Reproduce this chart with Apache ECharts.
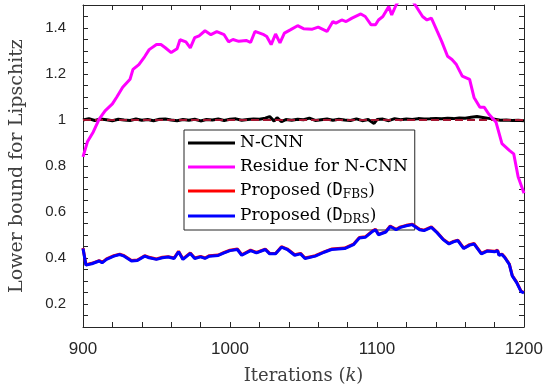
<!DOCTYPE html>
<html>
<head>
<meta charset="utf-8">
<script src="https://cdn.jsdelivr.net/npm/echarts@6/dist/echarts.min.js"></script>
<style>
    html, body { margin: 0; padding: 0; background: #fff; }
    #main { width: 548px; height: 390px; }
</style>
</head>
<body>
<div id="main"></div>
<script>
// tick labels
var xTickLabels = [900, 1000, 1100, 1200]
var yTickLabels = [0.2, 0.4, 0.6, 0.8, 1, 1.2, 1.4]

// N-CNN (black)
var nIter = [900,904,908,912,916,920,924,928,932,936,940,944,948,952,956,960,964,968,972,976,980,984,988,992,996,1000,1004,1008,1012,1016,1020,1024,
    1027,1030,1032,1035,1038,
    1042,1046,1050,1054,1058,1062,1066,1070,1074,1078,1082,1086,1090,1094,
    1098,1100,
    1104,1108,1112,1116,1120,1124,1128,1132,1136,1140,1144,1148,1152,1156,1160,1164,1168,1172,1176,1180,1184,1188,1192,1196,1200]
var nVals = [1.000,1.006,0.998,1.004,1.001,0.997,1.003,1.000,0.998,1.004,0.999,1.002,0.997,1.003,1.004,1.000,0.997,1.002,0.999,1.003,0.996,1.002,1.000,1.004,0.998,1.003,1.005,0.999,1.002,1.004,1.003,1.008,
    1.015,0.995,1.010,0.993,1.002,
    0.999,1.003,1.001,1.008,0.998,1.001,1.004,0.999,1.003,1.000,0.998,1.005,0.997,1.002,
    0.985,1.002,
    1.004,0.997,1.006,1.001,1.004,1.002,1.006,1.004,1.005,1.007,1.005,1.008,1.006,1.009,1.008,1.012,1.015,1.011,1.007,1.003,0.999,1.000,0.998,0.999,0.997]

// Residue for N-CNN (magenta)
var resIter = [900,903,907,911,915,920,923,927,932,934,938,942,945,950,953,956,960,964,966,970,973,976,979,983,987,991,996,999,1002,1006,
    1011,1014,1017,1023,1025,1028,1031,1034,1037,1041,1046,1050,1056,1060,1066,1070,1072,1076,1079,1083,1089,1092,1096,1099,1101,1104,1108,1110,1113,1117,
    1121,1126,1131,1134,1137,1141,1144,1148,1151,1154,1158,1163,1166,1170,1173,1176,1181,1185,1190,1193,1196,1200]
var resVals = [0.840,0.905,0.948,1.004,1.040,1.070,1.100,1.142,1.177,1.220,1.241,1.276,1.306,1.328,1.328,1.314,1.293,1.310,1.349,1.340,1.314,1.358,1.366,1.388,1.371,1.384,1.371,1.340,1.350,1.342,
    1.346,1.337,1.385,1.371,1.363,1.328,1.374,1.335,1.378,1.392,1.410,1.397,1.395,1.404,1.385,1.428,1.421,1.435,1.428,1.443,1.461,1.450,1.414,1.414,1.435,1.450,1.493,1.457,1.500,1.540,
    1.550,1.500,1.450,1.435,1.443,1.385,1.342,1.277,1.263,1.241,1.191,1.177,1.098,1.055,1.055,1.026,0.990,0.897,0.868,0.853,0.753,0.681]

// Proposed (D_FBS) red, Proposed (D_DRS) blue -- nearly the same curve
var propIter = [900,902,906,911,913,916,921,925,928,933,937,942,945,950,954,958,962,965,968,973,976,980,983,986,992,996,1000,1005,1008,1014,
    1018,1024,1027,1031,1035,1039,1044,1048,1051,1058,1064,1069,1078,1084,1088,1092,1097,1099,1101,1106,1109,1113,1116,1120,1124,1129,1132,1137,1141,1145,
    1149,1152,1155,1159,1163,1166,1171,1175,1180,1182,1183,1185,1187,1190,1192,1195,1198,1200]
var fbsVals = [0.443,0.371,0.377,0.389,0.381,0.396,0.410,0.417,0.410,0.389,0.391,0.410,0.403,0.396,0.403,0.406,0.400,0.429,0.396,0.422,0.400,0.407,0.400,0.410,0.413,0.424,0.434,0.439,0.414,0.434,
    0.424,0.439,0.420,0.420,0.449,0.439,0.414,0.420,0.400,0.410,0.427,0.439,0.443,0.460,0.489,0.492,0.518,0.525,0.503,0.515,0.539,0.525,0.535,0.542,0.547,0.525,0.521,0.535,0.511,0.482,
    0.463,0.472,0.478,0.443,0.458,0.463,0.420,0.432,0.429,0.434,0.414,0.417,0.403,0.374,0.324,0.295,0.256,0.250]
var drsVals = [0.441,0.369,0.375,0.387,0.379,0.394,0.408,0.415,0.408,0.387,0.389,0.408,0.401,0.394,0.401,0.404,0.398,0.427,0.394,0.420,0.398,0.405,0.398,0.408,0.411,0.422,0.432,0.437,0.412,0.432,
    0.422,0.437,0.418,0.418,0.447,0.437,0.412,0.418,0.398,0.408,0.425,0.437,0.441,0.458,0.487,0.490,0.516,0.523,0.501,0.513,0.537,0.523,0.533,0.540,0.545,0.523,0.519,0.533,0.509,0.480,
    0.461,0.470,0.476,0.441,0.456,0.461,0.418,0.430,0.427,0.432,0.412,0.415,0.401,0.372,0.322,0.293,0.254,0.248]

// dashed reference level
var refIter = [900, 1200]
var refVals = [1, 1]

function pairs(xs, ys) {
    var out = []
    for (var i = 0; i < xs.length; i++) {
        out.push([xs[i], ys[i]])
    }
    return out
}

var axisColor = '#262626'
var serif = 'DejaVu Serif'

var legendText = {
    'N-CNN': 'N-CNN',
    'Residue for N-CNN': 'Residue for N-CNN',
    'Proposed (D_FBS)': 'Proposed ({m|D}{s|FBS})',
    'Proposed (D_DRS)': 'Proposed ({m|D}{s|DRS})'
}

var myChart = echarts.init(document.getElementById('main'))

var option = {
    animation: false,
    backgroundColor: '#fff',
    grid: { left: 72, right: 24, top: 5, bottom: 60, show: false },
    legend: {
        data: ['N-CNN', 'Residue for N-CNN', 'Proposed (D_FBS)', 'Proposed (D_DRS)'],
        orient: 'vertical',
        left: 184,
        top: 130,
        padding: [4, 7, 4, 4],
        itemGap: 6,
        itemWidth: 47,
        itemHeight: 3,
        icon: 'rect',
        backgroundColor: '#fff',
        borderColor: axisColor,
        borderWidth: 1,
        borderRadius: 0,
        selectedMode: false,
        formatter: function (name) {
            return legendText[name]
        },
        textStyle: {
            fontFamily: serif,
            fontSize: 17,
            lineHeight: 18,
            color: '#000',
            rich: {
                m: { fontFamily: 'DejaVu Sans Mono', fontSize: 17, color: '#000' },
                s: { fontFamily: serif, fontSize: 12, color: '#000', padding: [8, 0, 0, 0] }
            }
        }
    },
    xAxis: [
        {
            type: 'value',
            min: 900,
            max: 1200,
            interval: 20,
            name: 'Iterations ({i|k})',
            nameLocation: 'middle',
            nameGap: 40,
            nameTextStyle: {
                fontFamily: serif,
                fontSize: 18,
                color: '#404040',
                rich: {
                    i: { fontFamily: serif, fontStyle: 'italic', fontSize: 18, color: '#404040' }
                }
            },
            axisLine: { show: true, lineStyle: { color: axisColor, width: 1 } },
            axisTick: { show: true, inside: true, length: 5, lineStyle: { color: axisColor } },
            axisLabel: {
                interval: 0,
                margin: 14,
                fontFamily: 'Liberation Sans',
                fontSize: 17,
                color: axisColor,
                formatter: function (v) {
                    return xTickLabels.indexOf(Math.round(v)) >= 0 ? String(Math.round(v)) : ''
                }
            },
            splitLine: { show: false }
        },
        {
            type: 'value',
            position: 'top',
            min: 900,
            max: 1200,
            interval: 20,
            axisLine: { show: true, lineStyle: { color: axisColor, width: 1 } },
            axisTick: { show: true, inside: true, length: 5, lineStyle: { color: axisColor } },
            axisLabel: { show: false },
            splitLine: { show: false }
        }
    ],
    yAxis: [
        {
            type: 'value',
            min: 0.1,
            max: 1.5,
            interval: 0.05,
            name: 'Lower bound for Lipschitz',
            nameLocation: 'middle',
            nameGap: 56,
            nameTextStyle: { fontFamily: serif, fontSize: 19, color: '#404040' },
            axisLine: { show: true, lineStyle: { color: axisColor, width: 1 } },
            axisTick: { show: true, inside: true, length: 5, lineStyle: { color: axisColor } },
            axisLabel: {
                interval: 0,
                margin: 17,
                fontFamily: 'Liberation Sans',
                fontSize: 15,
                color: axisColor,
                formatter: function (v) {
                    var r = Math.round(v * 100) / 100
                    return yTickLabels.indexOf(r) >= 0 ? String(r) : ''
                }
            },
            splitLine: { show: false }
        },
        {
            type: 'value',
            position: 'right',
            min: 0.1,
            max: 1.5,
            interval: 0.05,
            axisLine: { show: true, lineStyle: { color: axisColor, width: 1 } },
            axisTick: { show: true, inside: true, length: 5, lineStyle: { color: axisColor } },
            axisLabel: { show: false },
            splitLine: { show: false }
        }
    ],
    series: [
        {
            name: 'N-CNN',
            type: 'line',
            data: pairs(nIter, nVals),
            showSymbol: false,
            color: '#000000',
            lineStyle: { width: 3, color: '#000000' },
            z: 2
        },
        {
            name: 'ref',
            type: 'line',
            data: pairs(refIter, refVals),
            showSymbol: false,
            color: '#a2142f',
            lineStyle: { width: 2, type: [8, 4], color: '#a2142f' },
            z: 3
        },
        {
            name: 'Residue for N-CNN',
            type: 'line',
            data: pairs(resIter, resVals),
            showSymbol: false,
            clip: true,
            color: '#ff00ff',
            lineStyle: { width: 3, color: '#ff00ff' },
            z: 4
        },
        {
            name: 'Proposed (D_FBS)',
            type: 'line',
            data: pairs(propIter, fbsVals),
            showSymbol: false,
            color: '#ff0000',
            lineStyle: { width: 3, color: '#ff0000' },
            z: 5
        },
        {
            name: 'Proposed (D_DRS)',
            type: 'line',
            data: pairs(propIter, drsVals),
            showSymbol: false,
            color: '#0000ff',
            lineStyle: { width: 3, color: '#0000ff' },
            z: 6
        }
    ]
}
myChart.setOption(option)
</script>
</body>
</html>
